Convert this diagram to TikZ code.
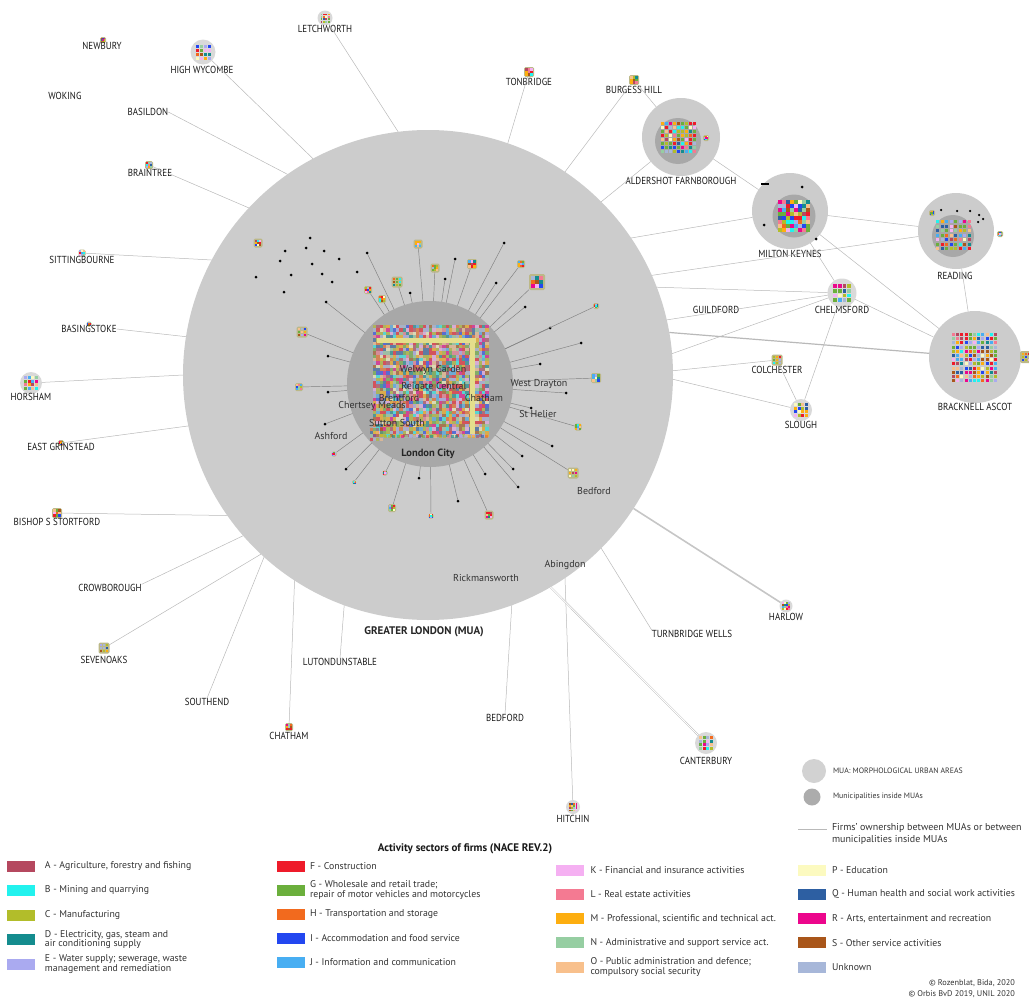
\documentclass[tikz,border=0pt]{standalone}
\usepackage{fontspec}
\setmainfont{PT Sans}
\newfontfamily\muafont[FakeStretch=0.88]{PT Sans}
\usetikzlibrary{positioning}

\definecolor{secA}{HTML}{B5485F}
\definecolor{secB}{HTML}{22F2EE}
\definecolor{secC}{HTML}{B2BD2A}
\definecolor{secD}{HTML}{148C8E}
\definecolor{secE}{HTML}{AAAAF0}
\definecolor{secF}{HTML}{EE1B2A}
\definecolor{secG}{HTML}{6BAF3C}
\definecolor{secH}{HTML}{F26A1E}
\definecolor{secI}{HTML}{2347F0}
\definecolor{secJ}{HTML}{48AEF2}
\definecolor{secK}{HTML}{F5B0F2}
\definecolor{secL}{HTML}{F47A92}
\definecolor{secM}{HTML}{FDAE10}
\definecolor{secN}{HTML}{96CEA2}
\definecolor{secO}{HTML}{F8C08C}
\definecolor{secP}{HTML}{FCFAC0}
\definecolor{secQ}{HTML}{2D5FA2}
\definecolor{secR}{HTML}{EC068C}
\definecolor{secS}{HTML}{A9561A}
\definecolor{secU}{HTML}{A7B7D9}
\definecolor{lcband}{RGB}{228,222,140}

\pgfmathdeclarerandomlist{sectors}{{secA}{secB}{secC}{secD}{secE}{secF}{secG}{secH}{secI}{secJ}{secK}{secL}{secM}{secN}{secO}{secP}{secQ}{secR}{secS}{secU}{secG}{secF}{secM}{secC}}

% firms as little squares: x0, y0, columns, rows, step, cell
\newcommand{\mosaic}[6]{%
	\foreach \mx in {1,...,#3} {\foreach \my in {1,...,#4} {%
		\pgfmathrandomitem{\mc}{sectors}%
		\fill[\mc] ({#1+(\mx-1)*(#5)},{#2+(\my-1)*(#5)}) rectangle +(#6,#6);}}}
% municipality: name, x, y, size
\newcommand{\munip}[4]{%
	\node[ico, minimum size=#4pt] (#1) at (#2,#3) {};
	\mosaic{#2-#4*0.36}{#3-#4*0.36}{3}{3}{#4*0.25}{#4*0.22}}
% small urban area: name, x, y, diameter
\newcommand{\muacirc}[4]{%
	\node[mua, fill=gray!30, minimum size=#4pt] (#1) at (#2,#3) {};
	\mosaic{#2-#4*0.3}{#3-#4*0.3}{4}{4}{#4*0.16}{#4*0.13}}

\begin{document}
\begin{tikzpicture}[x=1pt, y=-1pt,
	every node/.style={inner sep=0pt, outer sep=0pt},
	mua/.style={circle, fill=gray!40},
	inmua/.style={circle, fill=gray!68},
	ico/.style={rounded corners=1.5pt, fill=lcband!60!gray},
	dot/.style={circle, fill=black, minimum size=3pt},
	link/.style={draw=gray!55, line width=0.5pt},
	spoke/.style={draw=black!50, line width=0.45pt},
	lab/.style={font=\muafont\fontsize{10.2}{11}\selectfont, text=black!90},
	mlab/.style={font=\fontsize{10}{11}\selectfont, text=black!80},
	swatch/.style={minimum width=28pt, minimum height=11pt},
	legtxt/.style={font=\fontsize{9.8}{9.5}\selectfont, text=black!80, align=left}
	]
	\pgfmathsetseed{12}
	\useasboundingbox (0,0) rectangle (1029,1001);
	
	% urban areas
	\node[mua, minimum size=490pt] (gl) at (428,375) {};
	\node[inmua, minimum size=166pt] (lc) at (430,384) {};
	
	\node[mua, minimum size=78pt] (alder) at (681,137) {};
	\node[inmua, minimum size=46pt] (alder-in) at (678,141) {};
	\mosaic{661}{122}{9}{8}{4}{3.2}
	\munip{alderx}{706}{138}{6}
	
	\node[mua, minimum size=76pt] (mk) at (790,211) {};
	\node[inmua, minimum size=43pt] (mk-in) at (794,216) {};
	\mosaic{778}{200}{8}{8}{4}{4}
	\node[fill=black, minimum width=8pt, minimum height=2.5pt] (mkbar) at (765,184) {};
	\node[dot] (mk1) at (802,187) {};
	\node[dot] (mk2) at (764,225) {};
	\node[dot] (mk3) at (816,239) {};
	
	\node[mua, minimum size=76pt] (read) at (956,231) {};
	\node[inmua, minimum size=42pt] (read-in) at (953,236) {};
	\mosaic{936}{220}{8}{7}{4.5}{3.2}
	\foreach \px/\py [count=\nn] in {941/210, 957/211, 970/211, 979/215, 983/219, 978/222}
		\node[dot, minimum size=2.5pt] (r\nn) at (\px,\py) {};
	\munip{readx}{932}{213}{6}
	\munip{ready}{1000}{234}{6}
	
	\node[mua, minimum size=92pt] (brack) at (975,357) {};
	\mosaic{952}{333}{11}{12}{4.2}{3}
	\munip{brackx}{1026}{357}{12}
	
	\muacirc{letch}{325}{18}{15}
	\munip{newb}{103}{40}{6}
	\muacirc{hwyc}{203}{52}{25}
	\munip{braint}{149}{165}{8}
	\munip{tonb}{529}{72}{10}
	\munip{burg}{634}{80}{10}
	\munip{sitt}{82}{253}{7}
	\munip{basing}{89}{324}{5}
	\muacirc{horsh}{31}{383}{22}
	\munip{eastg}{61}{443}{6}
	\munip{bishop}{57}{513}{10}
	\munip{seven}{104}{648}{11}
	\munip{chath}{289}{727}{8}
	\muacirc{hitch}{573}{807}{14}
	\muacirc{cant}{706}{743}{22}
	\muacirc{harlow}{786}{606}{13}
	\muacirc{chelm}{842}{293}{29}
	\munip{colch}{777}{360}{11}
	\muacirc{slough}{801}{410}{22}
	
	% names of urban areas
	\node[lab] (letch-t) at (325,29) {LETCHWORTH};
	\node[lab] (newb-t) at (102,46) {NEWBURY};
	\node[lab] (hwyc-t) at (202,70) {HIGH WYCOMBE};
	\node[lab] (woking) at (65,96) {WOKING};
	\node[lab] (basild) at (148,112) {BASILDON};
	\node[lab] (braint-t) at (150,173) {BRAINTREE};
	\node[lab] (tonb-t) at (529,82) {TONBRIDGE};
	\node[lab] (burg-t) at (634,90) {BURGESS HILL};
	\node[lab] (alder-t) at (681,181) {ALDERSHOT FARNBOROUGH};
	\node[lab] (mk-t) at (790,254) {MILTON KEYNES};
	\node[lab] (read-t) at (955,276) {READING};
	\node[lab] (brack-t) at (975,407) {BRACKNELL ASCOT};
	\node[lab] (chelm-t) at (842,310) {CHELMSFORD};
	\node[lab] (guild) at (716,310) {GUILDFORD};
	\node[lab] (colch-t) at (777,370) {COLCHESTER};
	\node[lab] (slough-t) at (801,425) {SLOUGH};
	\node[lab] (sitt-t) at (82,260) {SITTINGBOURNE};
	\node[lab] (basing-t) at (89,329) {BASINGSTOKE};
	\node[lab] (horsh-t) at (31,397) {HORSHAM};
	\node[lab] (eastg-t) at (61,447) {EAST GRINSTEAD};
	\node[lab] (bishop-t) at (57,522) {BISHOP S STORTFORD};
	\node[lab] (crowb) at (110,588) {CROWBOROUGH};
	\node[lab] (seven-t) at (104,660) {SEVENOAKS};
	\node[lab] (southend) at (207,702) {SOUTHEND};
	\node[lab] (chath-t) at (289,736) {CHATHAM};
	\node[lab] (luton) at (340,662) {LUTONDUNSTABLE};
	\node[lab] (bedf) at (505,718) {BEDFORD};
	\node[lab] (hitch-t) at (573,819) {HITCHIN};
	\node[lab] (cant-t) at (706,761) {CANTERBURY};
	\node[lab] (tunb) at (692,634) {TURNBRIDGE WELLS};
	\node[lab] (harlow-t) at (786,617) {HARLOW};
	\node[font=\bfseries\fontsize{11}{12}\selectfont, text=black!85] (gl-t) at (424,632) {GREATER LONDON (MUA)};
	
	% ownership links
	\draw[link] (letch) -- (gl.97);
	\draw[link] (hwyc) -- (gl.118);
	\draw[link] (basild.east) -- (gl.125);
	\draw[link] (braint) -- (gl.137);
	\draw[link] (sitt) -- (gl.152);
	\draw[link] (basing-t.east) -- (gl.171);
	\draw[link] (horsh) -- (gl.180);
	\draw[link] (eastg) -- (gl.192);
	\draw[link] (bishop) -- (gl.215);
	\draw[link] (crowb.north east) -- (gl.221);
	\draw[link] (seven) -- (gl.227);
	\draw[link] (southend.north) -- (gl.228);
	\draw[link] (chath) -- (gl.237);
	\draw[link] (luton.north) -- (gl.250);
	\draw[link] (bedf.north) -- (gl.-70);
	\draw[link] (hitch) -- (gl.-56);
	\draw[link, line width=0.4pt, double=white, double distance=1pt] (cant) -- (gl.-60);
	\draw[link] (tunb.north west) -- (gl.-45);
	\draw[link, line width=1.6pt, draw=gray!45] (harlow) -- (gl.-33);
	\draw[link] (tonb) -- (gl.71);
	\draw[link] (burg) -- (gl.56);
	\draw[link] (burg) -- (alder);
	\draw[link] (alder) -- (gl.45);
	\draw[link] (alder) -- (mk);
	\draw[link] (mk) -- (gl.34);
	\draw[link] (mk) -- (read);
	\draw[link] (read) -- (gl.24);
	\draw[link] (chelm) -- (gl.21);
	\draw[link] (chelm) -- (gl.13);
	\draw[link] (chelm) -- (gl.5);
	\draw[link, line width=1.2pt] (brack) -- (gl.10);
	\draw[link] (colch) -- (gl.1);
	\draw[link] (slough) -- (gl.-1);
	\draw[link] (chelm) -- (slough);
	\draw[link] (colch) -- (slough);
	\draw[link] (mk) -- (chelm);
	\draw[link] (mk) -- (brack);
	\draw[link] (chelm) -- (brack);
	\draw[link] (read) -- (brack);
	
	% municipalities of Greater London
	\foreach \px/\py [count=\nn] in {310/238, 285/251, 306/248, 324/251, 280/261, 312/264, 339/259, 256/277, 291/275, 322/274, 332/282, 284/292, 357/272}
		\node[dot] (s\nn) at (\px,\py) {};
	\munip{m0}{258}{243}{9}
	\foreach \px/\py [count=\nn] in {367/253, 326/302, 410/293, 455/259, 445/279, 504/243, 496/283, 525/307, 550/328, 581/343, 540/364, 566/393, 531/408, 552/446, 522/456, 513/469, 518/487, 485/474, 458/501, 419/478, 346/469, 325/424, 328/392, 328/356}
		\node[dot] (d\nn) at (\px,\py) {};
	\foreach \nn in {1,...,24}
		\draw[spoke] (d\nn) -- (lc);
	\foreach \px/\py/\ps [count=\nn] in {418/244/9, 435/268/9, 472/264/10, 521/264/8, 537/282/16, 596/306/6, 596/378/10, 578/427/7, 573/473/11, 489/515/9, 431/516/5, 392/508/8, 385/473/5, 354/482/4, 334/454/5, 299/387/8, 302/332/11, 368/290/8, 382/299/8, 397/282/11}
		\munip{m\nn}{\px}{\py}{\ps};
	\foreach \nn in {1,...,20}
		\draw[spoke] (m\nn) -- (lc);
	
	% London City firms
	\begin{scope}[fill opacity=0.6]
		\mosaic{373}{325}{35}{34}{3.3}{3.3}
		\mosaic{384}{435}{25}{1}{4.2}{3}
		\mosaic{370}{428}{4}{4}{3.2}{3}
	\end{scope}
	\fill[lcband] (377,338) rectangle (476,343);
	\fill[lcband] (470,338) rectangle (475,434);
	
	\node[mlab] (welwyn) at (433,370) {Welwyn Garden};
	\node[mlab] (reigate) at (434,387) {Reigate Central};
	\node[mlab] (brent) at (399,398) {Brentford};
	\node[mlab] (chatm) at (484,398) {Chatham};
	\node[mlab] (chert) at (372,406) {Chertsey Meads};
	\node[mlab] (sutton) at (397,423) {Sutton South};
	\node[mlab] (ashf) at (331,436) {Ashford};
	\node[mlab] (wdray) at (539,384) {West Drayton};
	\node[mlab] (sthel) at (538,414) {St Helier};
	\node[mlab] (bedm) at (594,491) {Bedford};
	\node[mlab] (rick) at (486,578) {Rickmansworth};
	\node[mlab] (abing) at (565,565) {Abingdon};
	\node[font=\bfseries\fontsize{10.5}{12}\selectfont, text=black!85] (lc-t) at (428,454) {London City};
	
	% legend
	\node[circle, fill=gray!35, minimum size=24pt] (lg-mua) at (814,771) {};
	\node[legtxt, font=\fontsize{7.8}{9}\selectfont, anchor=west] (lg-mua-t) at (833,771) {MUA: MORPHOLOGICAL URBAN AREAS};
	\node[circle, fill=gray!65, minimum size=17pt] (lg-mun) at (812,797) {};
	\node[legtxt, font=\fontsize{7.8}{9}\selectfont, anchor=west] (lg-mun-t) at (833,797) {Municipalities inside MUAs};
	\coordinate (lg-a) at (798,829);
	\coordinate (lg-b) at (827,829);
	\draw[link, line width=1pt] (lg-a) -- (lg-b);
	\node[legtxt, font=\fontsize{10}{12}\selectfont, anchor=north west] (lg-lnk-t) at (832,823) {Firms’ ownership between MUAs or between\\municipalities inside MUAs};
	
	\node[font=\bfseries\fontsize{11}{12}\selectfont, text=black!90] (leg-t) at (465,849) {Activity sectors of firms (NACE REV.2)};
	
	\foreach \code/\txt [count=\nn] in {A/{A - Agriculture, forestry and fishing}, B/{B - Mining and quarrying}, C/{C - Manufacturing}, D/{D - Electricity, gas, steam and\\air conditioning supply}, E/{E - Water supply; sewerage, waste\\management and remediation}}
	{
		\node[swatch, fill=sec\code] (k\code) at (21,{841.5+24.5*\nn}) {};
		\node[legtxt, right=10pt of k\code] (t\code) {\txt};
	}
	\foreach \code/\txt [count=\nn] in {F/{F - Construction}, G/{G - Wholesale and retail trade;\\repair of motor vehicles and motorcycles}, H/{H - Transportation and storage}, I/{I - Accommodation and food service}, J/{J - Information and communication}}
	{
		\node[swatch, fill=sec\code] (k\code) at (291,{842+24*\nn}) {};
		\node[legtxt, right=5pt of k\code] (t\code) {\txt};
	}
	\foreach \code/\txt [count=\nn] in {K/{K - Financial and insurance activities}, L/{L - Real estate activities}, M/{M - Professional, scientific and technical act.}, N/{N - Administrative and support service act.}, O/{O - Public administration and defence;\\compulsory social security}}
	{
		\node[swatch, fill=sec\code] (k\code) at (569.5,{846+24.2*\nn}) {};
		\node[legtxt, right=7pt of k\code] (t\code) {\txt};
	}
	\foreach \code/\txt [count=\nn] in {P/{P - Education}, Q/{Q - Human health and social work activities}, R/{R - Arts, entertainment and recreation}, S/{S - Other service activities}, U/{Unknown}}
	{
		\node[swatch, fill=sec\code] (k\code) at (812,{846+24.2*\nn}) {};
		\node[legtxt, right=6pt of k\code] (t\code) {\txt};
	}
	
	\node[legtxt, font=\fontsize{8.3}{9}\selectfont, anchor=east] (copy1) at (1015,983) {© Rozenblat, Bida, 2020};
	\node[legtxt, font=\fontsize{8.3}{9}\selectfont, anchor=east] (copy2) at (1015,994) {© Orbis BvD 2019, UNIL 2020};
	
\end{tikzpicture}
\end{document}
